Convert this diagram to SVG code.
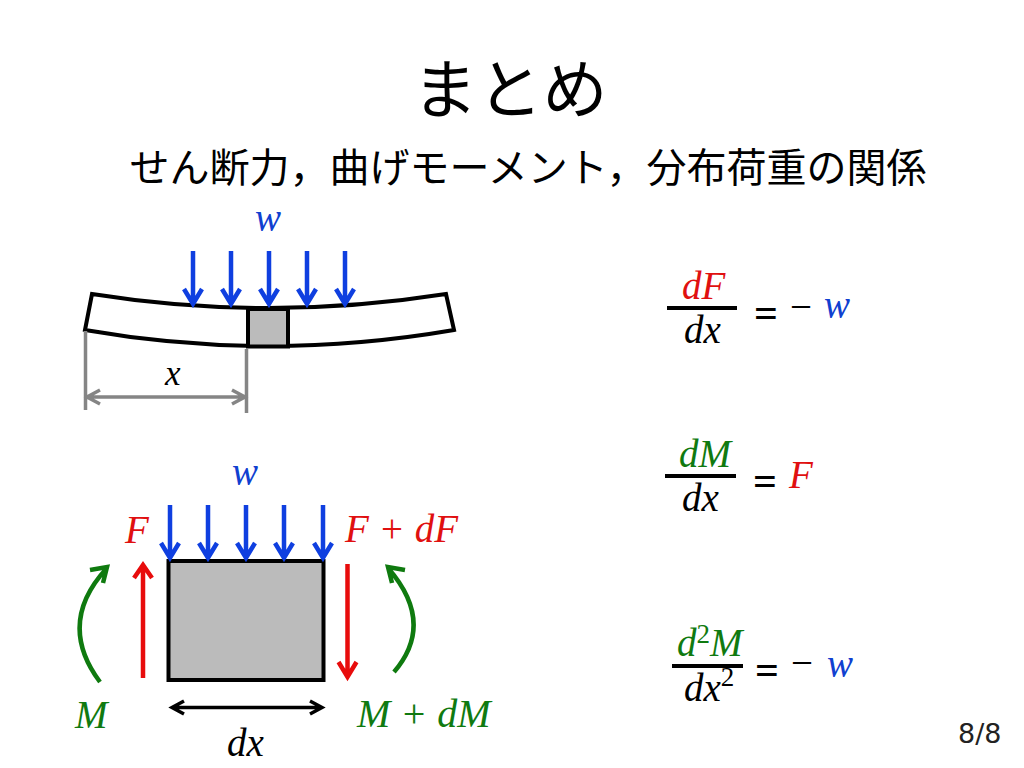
<svg xmlns="http://www.w3.org/2000/svg" width="1024" height="768" viewBox="0 0 1024 768">
<style>
.s{font-family:"Liberation Serif",serif;font-style:italic;font-size:39px}
.n{font-style:normal}
.eq{font-style:normal;font-size:42px;font-weight:bold}
.j{font-family:"Noto Sans CJK JP","Noto Sans",sans-serif}
.b{fill:#1040d0}.r{fill:#e01010}.g{fill:#107a10}.k{fill:#000}
.bar{stroke:#000;stroke-width:4;fill:none}
.blue{stroke:#0f3fe0;stroke-width:4.500;fill:none}
.red{stroke:#e80c0c;stroke-width:4.500;fill:none}
.green{stroke:#0f7a0f;stroke-width:4.500;fill:none}
.gray{stroke:#858585;stroke-width:3.500;fill:none}
.blk{stroke:#000;stroke-width:3.500;fill:none}
</style>
<rect width="1024" height="768" fill="#fff"/>
<g id="title"><text class="j" x="510" y="113" font-size="65" text-anchor="middle">まとめ</text></g>
<g id="subtitle"><text class="j" x="528" y="182" font-size="40" text-anchor="middle">せん断力，曲げモーメント，分布荷重の関係</text></g>

<g id="beam">
<path d="M92 294Q268 322 446 294L454 330Q268 362 85 330Z" fill="#fff" stroke="#000" stroke-width="4"/>
<rect x="248" y="309" width="40" height="37.500" fill="#bbb" stroke="#000" stroke-width="4"/>
<text class="s b" x="255" y="231">w</text>
<text class="s k" x="165" y="385" style="font-size:35px">x</text>
</g>
<g id="block">
<rect x="168.500" y="561" width="155" height="119" fill="#bbb" stroke="#000" stroke-width="4"/>
<text class="s b" x="232" y="485">w</text>
<text class="s r" x="125" y="543">F</text>
<text class="s r" x="345" y="542">F + dF</text>
<text class="s g" x="75" y="728">M</text>
<text class="s g" x="357" y="727" style="font-size:40px">M + dM</text>
<text class="s k" x="227" y="756">dx</text>
</g>
<g id="connectors">
<path class="blue" d="M193 251V304M184 289L193 304L202 289M231 251V304M222 289L231 304L240 289M269 251V304M260 289L269 304L278 289M307 251V304M298 289L307 304L316 289M345 251V304M336 289L345 304L354 289"/>
<path class="blue" d="M170 505V558M161 543L170 558L179 543M208 505V558M199 543L208 558L217 543M246 505V558M237 543L246 558L255 543M284 505V558M275 543L284 558L293 543M323 505V558M314 543L323 558L332 543"/>
<path class="gray" d="M85.500 331V410M246.500 349V413M87 397H245M100 390L87 397L100 404M232 390L245 397L232 404"/>
<path class="red" d="M143 678V565M134 578L143 565L152 578M347.500 564V677M338.500 662L347.500 677L356.500 662"/>
<path class="green" d="M100 682Q56 623 107 568M90 570L107 567L103 583M394 672Q436 623 388 568M405 570L388 567L392 583"/>
<path class="blk" d="M172 707.500H322M184 701L172 707.500L184 714M310 701L322 707.500L310 714"/>
</g>
<g id="eq1">
<text class="s r" x="682" y="299">dF</text>
<path class="bar" d="M667 308H737"/>
<text class="s k" x="684" y="343">dx</text>
<text class="s k eq" x="754" y="327">=</text>
<text class="s k n" x="790" y="320">−</text>
<text class="s b" x="824" y="318">w</text>
</g>
<g id="eq2">
<text class="s g" x="679" y="467">dM</text>
<path class="bar" d="M665 476H736"/>
<text class="s k" x="682" y="511">dx</text>
<text class="s k eq" x="753" y="495">=</text>
<text class="s r" x="789" y="488">F</text>
</g>
<g id="eq3">
<text class="s g" x="677" y="656">d<tspan class="n" dy="-13" font-size="27">2</tspan><tspan dy="13">M</tspan></text>
<path class="bar" d="M672 666H743"/>
<text class="s k" x="684" y="701">dx<tspan class="n" dy="-15" font-size="27">2</tspan></text>
<text class="s k eq" x="755" y="684">=</text>
<text class="s k n" x="791" y="676">−</text>
<text class="s b" x="827" y="677">w</text>
</g>
<g id="page"><text x="958" y="743" font-family="DejaVu Sans,sans-serif" font-size="27" fill="#222">8/8</text></g>
</svg>
